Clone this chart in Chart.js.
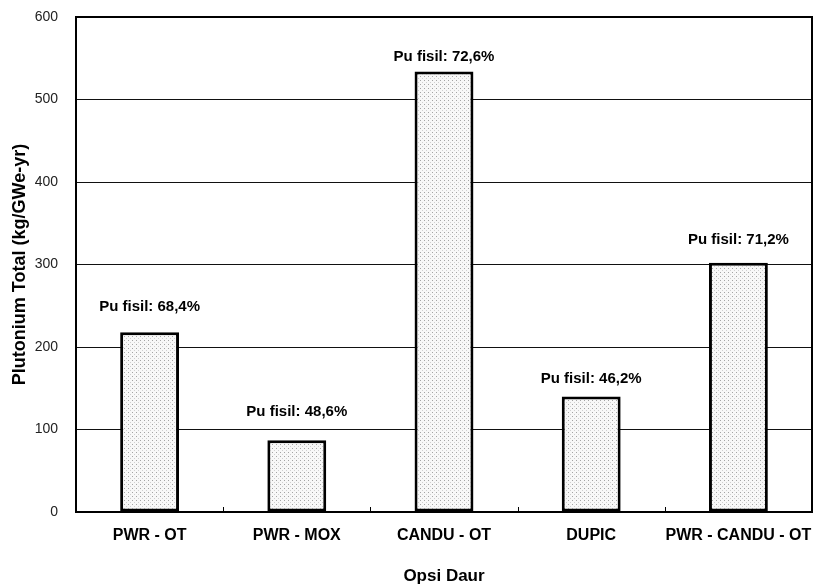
<!DOCTYPE html>
<html>
<head>
<meta charset="utf-8">
<script src="https://cdn.jsdelivr.net/npm/chart.js@4"></script>
<style>
  html, body { margin: 0; padding: 0; background: #fff; }
  #wrap { width: 819px; height: 588px; }
</style>
</head>
<body>
<div id="wrap"><canvas id="bar-chart"></canvas></div>
<script>
// data
var cycleOptions = ["PWR - OT", "PWR - MOX", "CANDU - OT", "DUPIC", "PWR - CANDU - OT"];
var plutoniumTotal = [218, 87, 534, 140, 302];          // kg/GWe-yr
var fissileLabels = ["Pu fisil: 68,4%", "Pu fisil: 48,6%", "Pu fisil: 72,6%", "Pu fisil: 46,2%", "Pu fisil: 71,2%"];
var yTicks = [0, 100, 200, 300, 400, 500, 600];

var labelLift = [25, 28, 15, 18, 23];   // px above each bar top
var fontFamily = "'Liberation Sans', Arial, sans-serif";

// stippled fill for the bars
function makeStipple(){
    var c = document.createElement('canvas');
    c.width = 4; c.height = 4;
    var g = c.getContext('2d');
    g.fillStyle = '#f8f8f8';
    g.fillRect(0, 0, 4, 4);
    g.fillStyle = '#a4a4a4';
    g.fillRect(0, 0, 1, 1);
    g.fillStyle = '#d0d0d0';
    g.fillRect(2, 2, 1, 1);
    return g.createPattern(c, 'repeat');
}

var boxAndLabels = {
    id: 'boxAndLabels',
    afterDatasetsDraw: function(chart){
        var ctx = chart.ctx, area = chart.chartArea;
        var xs = chart.scales.x;
        ctx.save();
        // small inward ticks between categories
        ctx.strokeStyle = '#000';
        ctx.lineWidth = 1;
        for (var i = 0; i < cycleOptions.length - 1; i++){
            var bx = Math.round((xs.getPixelForValue(i) + xs.getPixelForValue(i + 1)) / 2) + 0.5;
            ctx.beginPath();
            ctx.moveTo(bx, area.bottom);
            ctx.lineTo(bx, area.bottom - 5);
            ctx.stroke();
        }
        // frame
        ctx.lineWidth = 2;
        ctx.strokeRect(area.left, area.top, area.right - area.left, area.bottom - area.top);
        // value notes
        ctx.fillStyle = '#000';
        ctx.font = 'bold 15px ' + fontFamily;
        ctx.textAlign = 'center';
        ctx.textBaseline = 'middle';
        chart.getDatasetMeta(0).data.forEach(function(bar, k){
            ctx.fillText(fissileLabels[k], bar.x, bar.y - labelLift[k]);
        });
        ctx.restore();
    }
};

new Chart(document.getElementById('bar-chart'), {
    type: 'bar',
    data: {
        labels: cycleOptions,
        datasets: [{
            label: 'Plutonium Total',
            data: plutoniumTotal,
            backgroundColor: makeStipple(),
            borderColor: '#000',
            borderWidth: 3,
            borderSkipped: false,
            categoryPercentage: 1,
            barPercentage: 0.4
        }]
    },
    options: {
        responsive: true,
        maintainAspectRatio: false,
        animation: false,
        layout: { padding: { top: 17, right: 7, left: 0, bottom: 0 } },
        plugins: {
            legend: { display: false },
            tooltip: { enabled: false }
        },
        scales: {
            x: {
                grid: { display: false },
                border: { display: false },
                ticks: {
                    color: '#000',
                    padding: 6,
                    maxRotation: 0,
                    minRotation: 0,
                    autoSkip: false,
                    font: { family: fontFamily, size: 16, weight: 'bold' }
                },
                title: {
                    display: true,
                    text: 'Opsi Daur',
                    color: '#000',
                    padding: { top: 20, bottom: 1 },
                    font: { family: fontFamily, size: 17, weight: 'bold' }
                },
                afterFit: function(s){ s.height = 76; s.paddingLeft = 0; s.paddingRight = 0; }
            },
            y: {
                min: 0,
                max: 600,
                afterBuildTicks: function(s){ s.ticks = yTicks.map(function(v){ return { value: v }; }); },
                grid: { color: '#111', lineWidth: 1, drawTicks: false },
                border: { display: false },
                ticks: {
                    color: '#222',
                    padding: 18,
                    font: { family: fontFamily, size: 14 }
                },
                title: {
                    display: true,
                    text: 'Plutonium Total (kg/GWe-yr)',
                    color: '#000',
                    padding: { top: 9, bottom: 0 },
                    font: { family: fontFamily, size: 18, weight: 'bold' }
                },
                afterFit: function(s){ s.width = 76; s.paddingTop = 0; s.paddingBottom = 0; }
            }
        }
    },
    plugins: [boxAndLabels]
});
</script>
</body>
</html>
